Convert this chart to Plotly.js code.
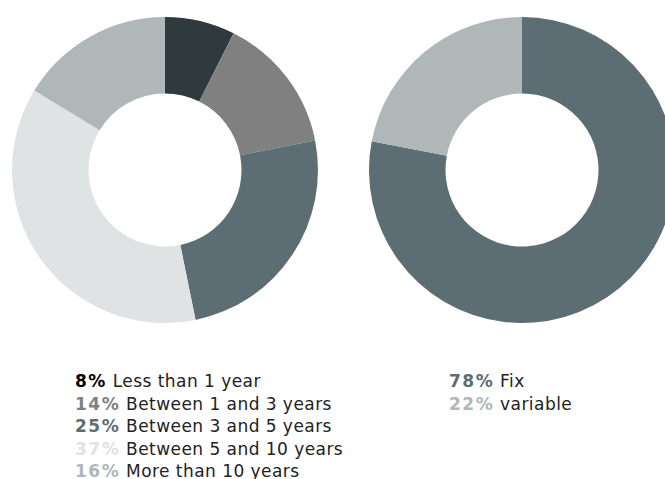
<!DOCTYPE html>
<html>
<head>
<meta charset="utf-8">
<script src="https://cdn.plot.ly/plotly-3.0.1.min.js"></script>
<style>
html, body { margin: 0; padding: 0; overflow: hidden; background: #fff; }
#chart { width: 700px; height: 479px; }
</style>
</head>
<body>
<div id="chart"></div>
<script>
// Data
const durationLabels = ["Less than 1 year", "Between 1 and 3 years", "Between 3 and 5 years", "Between 5 and 10 years", "More than 10 years"];
const durationPctLabels = ["8%", "14%", "25%", "37%", "16%"];
const durationValues = [7.4, 14.5, 24.9, 36.9, 16.3];
const durationColors = ["#2f3a3d", "#808080", "#5c6e74", "#dfe3e4", "#afb7b8"];

const rateLabels = ["Fix", "variable"];
const ratePctLabels = ["78%", "22%"];
const rateValues = [78, 22];
const rateColors = ["#5c6e74", "#afb7b8"];

const W = 700, H = 479;
const px = x => x / W;
const py = y => 1 - y / H;

const traces = [
  {
    type: "pie", labels: durationLabels, values: durationValues, hole: 0.5,
    sort: false, direction: "clockwise", rotation: 0,
    marker: { colors: durationColors, line: { width: 0 } },
    textinfo: "none", hoverinfo: "none", showlegend: false,
    domain: { x: [px(12), px(318)], y: [py(323), py(17)] }
  },
  {
    type: "pie", labels: rateLabels, values: rateValues, hole: 0.5,
    sort: false, direction: "clockwise", rotation: 0,
    marker: { colors: rateColors, line: { width: 0 } },
    textinfo: "none", hoverinfo: "none", showlegend: false,
    domain: { x: [px(369), px(675)], y: [py(323), py(17)] }
  }
];

const annotations = [];
const lineH = 22.5;
function addLegend(labels, pcts, colors, firstDark, x0, y0) {
  labels.forEach((lab, i) => {
    const pctColor = (i === 0 && firstDark) ? "#000000" : colors[i];
    annotations.push({
      xref: "paper", yref: "paper",
      x: px(x0), y: py(y0 + i * lineH),
      xanchor: "left", yanchor: "middle", showarrow: false,
      text: '<b><span style="color:' + pctColor + ';letter-spacing:1.5px">' + pcts[i] + '</span></b>' +
            '<span style="letter-spacing:0.45px"> ' + lab + '</span>',
      font: { family: "DejaVu Sans, Verdana, sans-serif", size: 17, color: "#222222" }
    });
  });
}
addLegend(durationLabels, durationPctLabels, durationColors, true, 73, 381);
addLegend(rateLabels, ratePctLabels, rateColors, false, 447, 381);

const layout = {
  width: W, height: H,
  margin: { l: 0, r: 0, t: 0, b: 0 },
  paper_bgcolor: "#ffffff",
  showlegend: false,
  annotations: annotations
};

Plotly.newPlot("chart", traces, layout, { displayModeBar: false, staticPlot: true });
</script>
</body>
</html>
